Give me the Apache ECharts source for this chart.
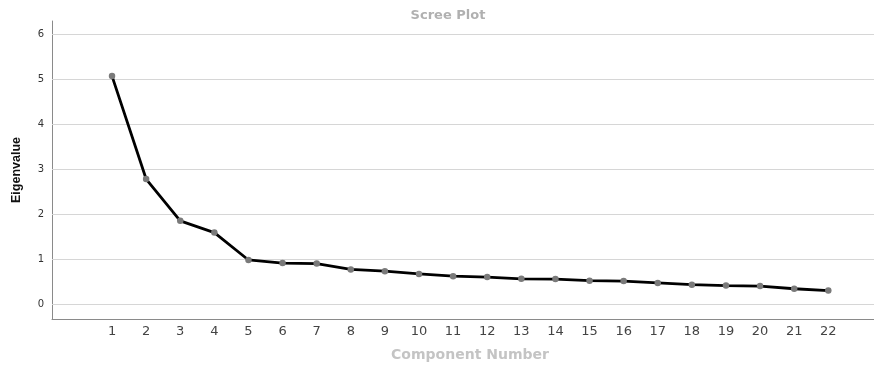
<!DOCTYPE html>
<html><head><meta charset="utf-8">
<script src="https://cdn.jsdelivr.net/npm/echarts@6/dist/echarts.min.js"></script>
<style>html,body{margin:0;padding:0;background:#fff}#c{width:874px;height:367px}</style>
</head><body><div id="c"></div>
<script>
const components = [1,2,3,4,5,6,7,8,9,10,11,12,13,14,15,16,17,18,19,20,21,22];
const eigenvalues = [5.07,2.78,1.85,1.59,0.98,0.91,0.90,0.77,0.73,0.67,0.62,0.60,0.56,0.555,0.52,0.51,0.47,0.43,0.41,0.40,0.34,0.30];
const yTicks = [0,1,2,3,4,5,6];

const chart = echarts.init(document.getElementById('c'), null, {renderer:'canvas'});
chart.setOption({
  animation:false,
  title:{text:'Scree Plot',left:443,top:4,textAlign:'center',textStyle:{fontFamily:'DejaVu Sans, Arial',fontSize:13,fontWeight:'bold',color:'#b0b0b0'}},
  grid:{left:52,right:0,top:21,bottom:48,containLabel:false,outerBoundsMode:'none'},
  xAxis:{type:'value',min:-0.76,max:23.34,
    name:'Component Number',nameLocation:'middle',nameGap:29,
    nameTextStyle:{fontFamily:'DejaVu Sans, Arial',fontSize:14,fontWeight:'bold',color:'#c4c4c4',padding:[0,0,0,14]},
    axisLine:{onZero:false,lineStyle:{color:'#8a8a8a',width:1}},axisTick:{show:false},
    splitLine:{show:false},
    axisLabel:{customValues:components,color:'#444',fontSize:13,fontFamily:'DejaVu Sans, Arial',margin:6}},
  yAxis:{type:'value',min:-0.333,max:6.296,
    name:'Eigenvalue',nameLocation:'middle',nameGap:29,
    nameTextStyle:{fontFamily:'Liberation Sans, Arial',fontSize:12.5,fontWeight:'bold',color:'#111'},
    axisLine:{show:true,onZero:false,lineStyle:{color:'#8a8a8a',width:1}},axisTick:{show:false},
    splitLine:{show:false},
    axisLabel:{customValues:yTicks,color:'#333',fontSize:10,fontFamily:'DejaVu Sans, Arial',margin:8}},
  series:[{
    type:'line',
    data:components.map((c,i)=>[c,eigenvalues[i]]),
    lineStyle:{color:'#000',width:2.8},
    symbol:'circle',symbolSize:6.5,
    itemStyle:{color:'#7a7a7a'},
    z:5,
    markLine:{silent:true,symbol:'none',label:{show:false},
      lineStyle:{color:'#d6d6d6',width:1.2,type:'solid'},
      data:yTicks.map(v=>({yAxis:v}))}
  }]
});
</script></body></html>
